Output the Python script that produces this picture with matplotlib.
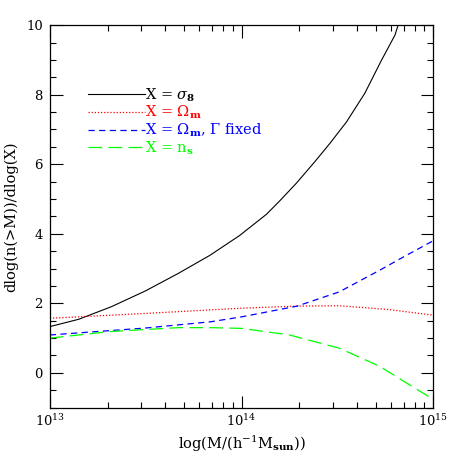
import numpy as np
import matplotlib
matplotlib.use('Agg')
import matplotlib.pyplot as plt
from matplotlib.ticker import MultipleLocator, LogLocator, FixedLocator

plt.rcParams['font.family'] = 'DejaVu Serif'
plt.rcParams['mathtext.fontset'] = 'dejavuserif'

# curves: log10(M) and the derivative
logm_s8 = [13.0, 13.15, 13.32, 13.50, 13.67, 13.835, 13.99, 14.13, 14.20, 14.287,
           14.382, 14.461, 14.548, 14.643, 14.73, 14.80, 14.817]
val_s8 = [1.33, 1.54, 1.90, 2.36, 2.86, 3.38, 3.95, 4.56, 4.95, 5.46,
          6.07, 6.60, 7.22, 8.04, 8.99, 9.71, 10.0]

logm_om = [13.0, 13.5, 14.0, 14.29, 14.51, 14.77, 15.0]
val_om = [1.57, 1.71, 1.86, 1.92, 1.93, 1.82, 1.66]

logm_omg = [13.0, 13.5, 13.84, 14.0, 14.29, 14.51, 14.72, 14.86, 15.0]
val_omg = [1.09, 1.29, 1.47, 1.61, 1.92, 2.33, 2.95, 3.38, 3.80]

logm_ns = [13.0, 13.32, 13.67, 13.84, 14.0, 14.25, 14.51, 14.72, 14.86, 15.0]
val_ns = [1.0, 1.19, 1.30, 1.30, 1.28, 1.09, 0.71, 0.19, -0.29, -0.76]

labels = [r'X = $\sigma_{\mathbf{8}}$', r'X = $\Omega_{\mathbf{m}}$',
          r'X = $\Omega_{\mathbf{m}}$, $\Gamma$ fixed', r'X = n$_{\mathbf{s}}$']
colors = ['black', 'red', 'blue', 'lime']

fig = plt.figure(figsize=(4.57, 4.57), dpi=100)
ax = fig.add_axes([0.109, 0.108, 0.839, 0.837])

ax.plot(10 ** np.array(logm_s8), val_s8, color=colors[0], lw=0.8, ls='-', label=labels[0])
ax.plot(10 ** np.array(logm_om), val_om, color=colors[1], lw=0.9, ls=(0, (1, 1.5)), label=labels[1])
ax.plot(10 ** np.array(logm_omg), val_omg, color=colors[2], lw=0.9, ls=(0, (5, 3.5)), label=labels[2])
ax.plot(10 ** np.array(logm_ns), val_ns, color=colors[3], lw=0.9, ls=(0, (11, 5)), label=labels[3])

ax.set_xscale('log')
ax.set_xlim(1e13, 1e15)
ax.set_ylim(-1, 10)
ax.yaxis.set_major_locator(MultipleLocator(2))
ax.yaxis.set_minor_locator(MultipleLocator(0.5))
ax.xaxis.set_major_locator(FixedLocator([1e13, 1e14, 1e15]))
ax.xaxis.set_minor_locator(LogLocator(base=10, subs=np.arange(2, 10)))
ax.tick_params(which='both', direction='in', top=True, right=True, labelsize=9.5)
ax.tick_params(which='major', length=9, width=0.8)
ax.tick_params(which='minor', length=4.5, width=0.8)
ax.tick_params(axis='x', pad=4)
ax.tick_params(axis='y', pad=5)
for s in ax.spines.values():
    s.set_linewidth(0.9)

ax.set_xlabel(r'log(M/(h$^{-1}$M$_{\mathbf{sun}}$))', fontsize=10.5, labelpad=3)
ax.set_ylabel('dlog(n(>M))/dlog(X)', fontsize=10.5, labelpad=6)

leg = ax.legend(loc='upper left', bbox_to_anchor=(0.1, 0.84), frameon=False,
                fontsize=10.5, handlelength=3.9, handletextpad=0.0,
                borderpad=0, borderaxespad=0, labelspacing=0.02)
for txt, c in zip(leg.get_texts(), colors):
    txt.set_color(c)

fig.savefig('out.png', dpi=100)
